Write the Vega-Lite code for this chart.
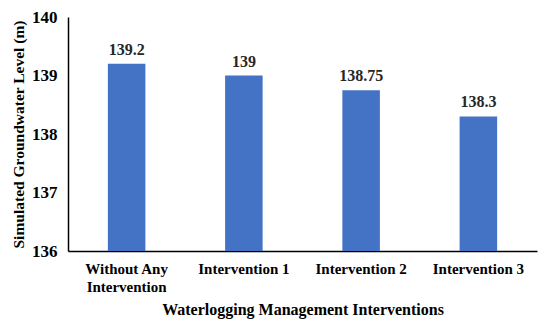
{
  "$schema": "https://vega.github.io/schema/vega-lite/v6.json",
  "autosize": "none",
  "width": 469,
  "height": 234,
  "padding": {"left": 68, "top": 17, "right": 13, "bottom": 78},
  "background": "white",
  "config": {"view": {"stroke": null}, "font": "Liberation Serif", "text": {"font": "Liberation Serif"}},
  "data": {"values": [
    {"intervention": "Without Any Intervention", "level": 139.2},
    {"intervention": "Intervention 1", "level": 139},
    {"intervention": "Intervention 2", "level": 138.75},
    {"intervention": "Intervention 3", "level": 138.3}
  ]},
  "encoding": {
    "x": {"field": "intervention", "type": "nominal", "sort": null,
      "scale": {"paddingInner": 0.68, "paddingOuter": 0.34},
      "axis": {"title": "Waterlogging Management Interventions", "labelAngle": 0,
        "labelExpr": "datum.value == 'Without Any Intervention' ? ['Without Any', 'Intervention'] : datum.value",
        "labelFont": "Liberation Serif", "labelFontSize": 15, "labelFontWeight": "bold", "labelColor": "#000",
        "labelPadding": 10, "labelLineHeight": 18, "ticks": false, "domainColor": "#000", "domainWidth": 1.5,
        "titleFont": "Liberation Serif", "titleFontSize": 16, "titleFontWeight": "bold", "titleColor": "#000", "titlePadding": 7}},
    "y": {"field": "level", "type": "quantitative",
      "scale": {"domain": [136, 140], "zero": false, "nice": false},
      "axis": {"title": "Simulated Groundwater Level (m)", "values": [136, 137, 138, 139, 140], "grid": false, "ticks": false,
        "labelFont": "Liberation Serif", "labelFontSize": 17, "labelFontWeight": "bold", "labelColor": "#000", "labelPadding": 11,
        "domainColor": "#000", "domainWidth": 1.5,
        "titleFont": "Liberation Serif", "titleFontSize": 15.5, "titleFontWeight": "bold", "titleColor": "#000", "titlePadding": 5}},
    "text": {"field": "level", "type": "quantitative"}
  },
  "layer": [
    {"mark": {"type": "bar", "color": "#4472C4"}, "encoding": {"y2": {"datum": 136}, "text": null}},
    {"mark": {"type": "text", "dy": -14, "font": "Liberation Serif", "fontSize": 16, "fontWeight": "bold", "color": "#262626"}}
  ]
}
